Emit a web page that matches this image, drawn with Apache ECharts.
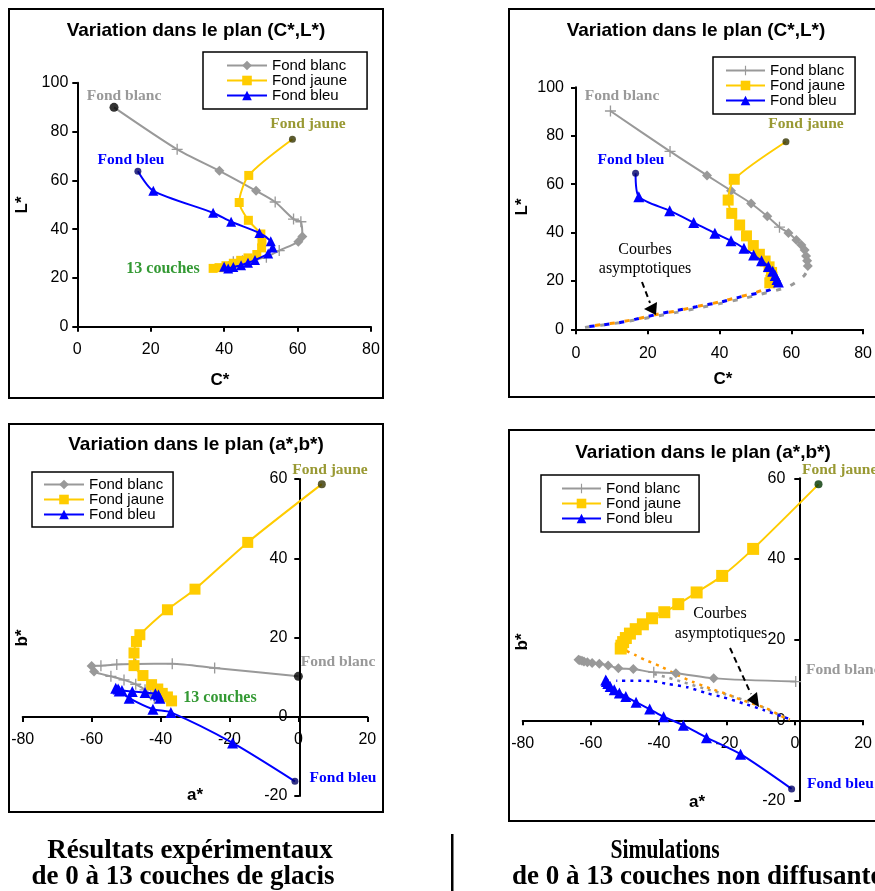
<!DOCTYPE html>
<html><head><meta charset="utf-8">
<script src="https://cdn.jsdelivr.net/npm/echarts@6/dist/echarts.min.js"></script>
<style>html,body{margin:0;padding:0;background:#fff}#c{width:875px;height:891px}</style>
</head><body><div id="c"></div>
<script>
// ---------- DATA ----------
const seriesNames = ['Fond blanc', 'Fond jaune', 'Fond bleu'];
const cTicks = [0, 20, 40, 60, 80];
const lTicks = [0, 20, 40, 60, 80, 100];
const aTicks = [-80, -60, -40, -20, 0, 20];
const bTicks = [-20, 0, 20, 40, 60];

// Panel 1: experimental (C*, L*)
const blanc1 = [[10.0,89.9],[27.2,72.7],[38.7,63.9],[48.7,55.7],[53.9,51.1],[58.9,44.1],[60.9,43.0],[61.3,37.0],[60.2,34.8],[55.0,31.2],[51.5,28.5],[48.0,27.5],[45.0,27.0],[42.5,26.6]];
const jaune1 = [[58.6,76.8],[46.7,62.0],[44.1,50.9],[46.6,43.6],[50.0,38.0],[50.3,35.0],[50.2,32.3],[48.9,29.6],[46.5,28.2],[44.5,27.2],[42.5,26.0],[40.5,25.0],[38.6,24.2],[37.0,23.9]];
const bleu1 = [[16.5,63.7],[20.7,55.7],[37.0,46.7],[41.9,43.0],[49.6,38.4],[52.7,35.0],[53.2,32.5],[52.0,30.0],[48.4,27.3],[46.5,26.2],[44.6,25.2],[42.5,24.5],[41.1,23.9],[40.0,24.6]];

// Panel 2: simulation (C*, L*)
const blanc2 = [[9.6,90.2],[26.2,73.5],[36.5,63.6],[43.2,57.3],[48.8,52.0],[53.3,46.7],[56.7,42.2],[59.2,39.8],[61.4,36.9],[62.8,34.8],[63.7,32.8],[64.1,30.3],[64.4,28.3],[64.6,26.2]];
const jaune2 = [[58.5,77.5],[44.1,62.0],[42.4,53.4],[43.4,47.9],[45.6,43.1],[47.5,38.6],[49.4,34.6],[51.1,31.0],[52.7,28.2],[53.8,25.8],[54.5,23.5],[54.6,21.6],[54.3,20.3],[54.0,19.2]];
const bleu2 = [[16.6,64.5],[17.5,54.8],[26.1,49.0],[32.8,44.1],[38.7,39.7],[43.2,36.6],[46.8,33.5],[49.5,30.7],[51.7,28.3],[53.6,26.0],[54.8,24.0],[55.5,22.2],[56.0,20.6],[56.4,19.5]];
const asymBlanc2 = [[2.5,0.8],[7,1.7],[12,2.7],[16,3.7],[22,5.3],[28,7.0],[34,8.8],[40,10.6],[46,12.5],[51,14.3],[55.5,16.0],[59,17.5],[61.5,19.7],[63.5,22.0],[64.6,24.5]];
const asymJaune2 = [[2.5,1.0],[7,1.9],[12,2.9],[17,4.3],[22,6.0],[28,7.6],[34,9.5],[40,11.3],[45,13.2],[49.5,14.9],[52.5,16.5],[54.0,18.0]];
const asymBleu2 = [[2.4,0.9],[7.4,1.8],[11.9,2.7],[16.4,4.1],[21.8,5.9],[26.3,7.3],[33.5,9.3],[40.7,11.4],[46.1,13.5],[50.6,14.9],[54.0,16.3],[56.0,18.0]];

// Panel 3: experimental (a*, b*)
const blanc3 = [[0,10.2],[-24.3,12.3],[-36.6,13.4],[-47.2,13.3],[-52.7,13.2],[-57.3,12.9],[-60.0,12.8],[-59.3,11.4],[-54.4,10.2],[-50.6,9.3],[-47.2,8.2],[-44.5,6.8],[-42.8,5.5],[-41.8,4.7]];
const jaune3 = [[6.8,58.7],[-14.7,44.0],[-30.0,32.2],[-38.0,27.0],[-46.0,20.7],[-47.0,19.0],[-47.7,16.1],[-47.7,12.9],[-45.1,10.4],[-42.6,8.1],[-40.8,7.0],[-39.5,5.9],[-38.0,5.0],[-36.8,4.0]];
const bleu3 = [[-1.0,-16.3],[-19.1,-6.6],[-37.0,1.1],[-42.2,1.9],[-49.1,4.7],[-52.0,6.5],[-53.0,7.2],[-52.3,7.0],[-51.2,6.6],[-48.2,6.4],[-44.5,6.1],[-41.5,5.8],[-40.6,5.5],[-40.2,4.7]];

// Panel 4: simulation (a*, b*)
const blanc4 = [[0.2,9.6],[-23.9,10.4],[-35.0,11.7],[-41.5,11.9],[-47.5,12.7],[-51.9,12.9],[-54.9,13.6],[-57.5,14.0],[-59.6,14.2],[-61.0,14.4],[-62.0,14.6],[-62.6,14.8],[-63.2,14.9],[-63.6,15.0]];
const jaune4 = [[6.9,58.5],[-12.3,42.5],[-21.4,35.8],[-28.9,31.7],[-34.3,28.8],[-38.4,26.8],[-42.0,25.3],[-44.7,23.8],[-46.8,22.6],[-48.5,21.5],[-49.7,20.4],[-50.5,19.4],[-51.0,18.5],[-51.2,17.8]];
const bleu4 = [[-1.0,-17.0],[-16.0,-8.4],[-26.0,-4.3],[-32.8,-1.2],[-38.6,0.9],[-42.7,2.8],[-46.7,4.5],[-49.7,5.9],[-51.6,6.8],[-53.1,7.6],[-54.3,8.4],[-55.0,9.1],[-55.4,9.6],[-55.6,10.0]];
const asymBlanc4 = [[-41.4,11.5],[-37,10.5],[-32.6,9.4],[-26.8,7.9],[-18.6,6.0],[-10.9,3.8],[-4.6,1.3],[-1.5,0.3]];
const asymJaune4 = [[-50.5,17.6],[-47.0,16.2],[-44.1,15.0],[-39.8,13.5],[-34.5,11.2],[-30.2,9.6],[-24.9,7.9],[-20.0,6.5],[-16.2,5.2],[-8.5,3.0],[-2.7,0.5],[-1.5,0.2]];
const asymBleu4 = [[-52.5,9.8],[-46,9.8],[-41.5,9.7],[-37.4,9.0],[-31.6,8.2],[-25.8,6.7],[-21.0,5.7],[-15.2,4.2],[-9.4,2.6],[-3.6,0.9],[-1.5,0.3]];

// ---------- STYLE ----------
const SANS = '"Liberation Sans", Arial, sans-serif';
const SERIF = '"Liberation Serif", "Times New Roman", serif';
const C_GRAY = '#999999', C_YEL = '#FFCC00', C_BLUE = '#0000FF', C_ORANGE = '#FF9900';
const TICK = 'path://M4.4,0h1.2v4.4h4.4v1.2h-4.4v4.4h-1.2v-4.4h-4.4v-1.2h4.4z';
// marker kind per point: n none, t tick, d diamond, s series default
const mG1 = 'ntddtttddttttt', mG2 = 'ttddddtddddddd', mG3 = 'ntttttddtttttt', mG4 = 'tddtdddddddddd';
const mStart = 'nsssssssssssss';

function items(pts, marks) {
  return pts.map((p, i) => {
    const k = marks[i];
    if (k === 'n') return { value: p, symbol: 'none' };
    if (k === 't') return { value: p, symbol: TICK, symbolSize: 11 };
    if (k === 'd') return { value: p, symbol: 'diamond', symbolSize: 10 };
    return { value: p };
  });
}
function main(panel, idx, pts, marks, color, symbol, size) {
  return {
    type: 'line', name: panel + '|' + seriesNames[idx],
    xAxisIndex: panel - 1, yAxisIndex: panel - 1,
    data: items(pts, marks), symbol: symbol, symbolSize: size, symbolKeepAspect: true,
    smooth: 0.25, lineStyle: { color: color, width: 2 }, itemStyle: { color: color },
    z: 3 + idx, silent: true
  };
}
function dot(panel, p, color, size) {
  return { type: 'scatter', name: 'start', xAxisIndex: panel - 1, yAxisIndex: panel - 1,
    data: [p], symbol: 'circle', symbolSize: size, itemStyle: { color: color }, z: 10, silent: true };
}
function asym(panel, pts, color, dash, offset, width) {
  return { type: 'line', name: 'asym', xAxisIndex: panel - 1, yAxisIndex: panel - 1,
    data: pts, symbol: 'none', smooth: 0.2,
    lineStyle: { color: color, width: width, type: dash, dashOffset: offset }, z: 2, silent: true };
}
function axis(i, ticks, margin, offset) {
  return { gridIndex: i, type: 'value', min: ticks[0], max: ticks[ticks.length - 1], interval: ticks[1] - ticks[0],
    offset: offset,
    axisLine: { show: true, onZero: false, lineStyle: { color: '#000', width: 2 } },
    axisTick: { show: true, length: 5, lineStyle: { color: '#000', width: 2 } },
    axisLabel: { margin: margin, fontSize: 16, color: '#000', fontFamily: SANS },
    splitLine: { show: false } };
}
function legend(panel, left, top, padding, itemWidth) {
  return { data: seriesNames.map(n => panel + '|' + n), left: left, top: top, orient: 'vertical',
    itemGap: 0, itemWidth: itemWidth, itemHeight: 12, padding: padding,
    borderColor: '#000', borderWidth: 1.5, backgroundColor: '#fff', selectedMode: false,
    formatter: n => n.split('|')[1],
    textStyle: { fontFamily: SANS, fontSize: 15, lineHeight: 14.4, color: '#000' } };
}
function txt(text, x, y, font, color, align, sx) {
  return { type: 'text', x: x, y: y, scaleX: sx || 1, z: 50, silent: true,
    style: { text: text, x: 0, y: 0, font: font, fill: color, textAlign: align || 'center', textVerticalAlign: 'middle' } };
}
function rtxt(text, x, y, font) {
  return { type: 'text', x: x, y: y, rotation: Math.PI / 2, z: 50, silent: true,
    style: { text: text, x: 0, y: 0, font: font, fill: '#000', textAlign: 'center', textVerticalAlign: 'middle' } };
}
function frame(x, y, w, h) {
  return { type: 'rect', shape: { x: x, y: y, width: w, height: h }, z: 40, silent: true,
    style: { fill: 'none', stroke: '#000', lineWidth: 2 } };
}
function arrow(x1, y1, x2, y2, head) {
  return [
    { type: 'line', z: 50, silent: true, shape: { x1: x1, y1: y1, x2: x2, y2: y2 },
      style: { stroke: '#000', lineWidth: 2, lineDash: [6, 4] } },
    { type: 'polygon', z: 50, silent: true, shape: { points: head }, style: { fill: '#000' } }
  ];
}

const TITLE = 'bold 19px ' + SANS;
const AXN = 'bold 17px ' + SANS;
const ANN = 'bold 15.5px ' + SERIF;
const ANN2 = '16px ' + SERIF;
const BOT = 'bold 27px ' + SERIF;
const C_OLIVE = '#999933', C_GREEN = '#339933';

const option = {
  animation: false,
  backgroundColor: '#fff',
  grid: [
    { left: 77.3, top: 82.7, width: 293.7, height: 244 },
    { left: 576, top: 87.3, width: 296, height: 242 },
    { left: 22.7, top: 479, width: 344.6, height: 317 },
    { left: 522.7, top: 478.3, width: 345.3, height: 322.7 }
  ],
  xAxis: [axis(0, cTicks, 15, 0), axis(1, cTicks, 16, 0), axis(2, aTicks, 15, -79), axis(3, aTicks, 15, -80.7)],
  yAxis: [axis(0, lTicks, 9, 0), axis(1, lTicks, 12, 0), axis(2, bTicks, 12, -276.6), axis(3, bTicks, 14, -276.6)],
  legend: [
    legend(1, 203, 52, [6, 20, 6, 23], 40),
    legend(2, 713, 57, [6, 10, 6, 12], 39),
    legend(3, 32, 472, [5, 9, 5, 11], 40),
    legend(4, 541, 475, [6, 18, 6, 20], 39)
  ],
  series: [
    main(1, 0, blanc1, mG1, C_GRAY, 'diamond', 10),
    main(1, 1, jaune1, mStart, C_YEL, 'rect', 9),
    main(1, 2, bleu1, mStart, C_BLUE, 'triangle', 10),
    dot(1, blanc1[0], '#000000', 9), dot(1, jaune1[0], '#333300', 7), dot(1, bleu1[0], '#000066', 7),

    asym(2, asymBlanc2, C_GRAY, [5, 10], 0, 3),
    asym(2, asymJaune2, C_ORANGE, [5, 10], 5, 3),
    asym(2, asymBleu2, C_BLUE, [5, 10], 10, 3),
    main(2, 0, blanc2, mG2, C_GRAY, TICK, 11),
    main(2, 1, jaune2, mStart, C_YEL, 'rect', 11),
    main(2, 2, bleu2, mStart, C_BLUE, 'triangle', 11),
    dot(2, jaune2[0], '#333300', 7), dot(2, bleu2[0], '#000066', 7),

    main(3, 0, blanc3, mG3, C_GRAY, 'diamond', 10),
    main(3, 1, jaune3, mStart, C_YEL, 'rect', 11),
    main(3, 2, bleu3, mStart, C_BLUE, 'triangle', 11),
    dot(3, blanc3[0], '#000000', 9), dot(3, jaune3[0], '#333300', 8), dot(3, bleu3[0], '#000066', 7),

    asym(4, asymBlanc4, C_GRAY, [3, 5], 0, 2.5),
    asym(4, asymJaune4, C_ORANGE, [3, 5], 4, 2.5),
    asym(4, asymBleu4, C_BLUE, [3, 5], 2, 2.5),
    main(4, 0, blanc4, mG4, C_GRAY, TICK, 11),
    main(4, 1, jaune4, mStart, C_YEL, 'rect', 12),
    main(4, 2, bleu4, mStart, C_BLUE, 'triangle', 11),
    dot(4, jaune4[0], '#003300', 8), dot(4, bleu4[0], '#000066', 7)
  ],
  graphic: { elements: [
    frame(9, 9, 374, 389), frame(509, 9, 420, 388), frame(9, 424, 374, 388), frame(509, 430, 420, 391),
    txt('Variation dans le plan (C*,L*)', 196, 31, TITLE, '#000'),
    txt('Variation dans le plan (C*,L*)', 696, 31, TITLE, '#000'),
    txt('Variation dans le plan (a*,b*)', 196, 445, TITLE, '#000'),
    txt('Variation dans le plan (a*,b*)', 703, 453, TITLE, '#000'),
    txt('C*', 220, 380, AXN, '#000'), rtxt('L*', 22, 205, AXN),
    txt('C*', 723, 379, AXN, '#000'), rtxt('L*', 522, 207, AXN),
    txt('a*', 195, 795, AXN, '#000'), rtxt('b*', 22, 638, AXN),
    txt('a*', 697, 802, AXN, '#000'), rtxt('b*', 522, 642, AXN),
    txt('Fond blanc', 124, 96, ANN, C_GRAY), txt('Fond jaune', 308, 124, ANN, C_OLIVE),
    txt('Fond bleu', 131, 160, ANN, C_BLUE), txt('13 couches', 163, 269, 'bold 16px ' + SERIF, C_GREEN),
    txt('Fond blanc', 622, 96, ANN, C_GRAY), txt('Fond jaune', 806, 124, ANN, C_OLIVE),
    txt('Fond bleu', 631, 160, ANN, C_BLUE),
    txt('Courbes', 645, 250, ANN2, '#000'), txt('asymptotiques', 645, 269, ANN2, '#000'),
    txt('Fond jaune', 330, 470, ANN, C_OLIVE), txt('Fond blanc', 338, 662, ANN, C_GRAY),
    txt('Fond bleu', 343, 778, ANN, C_BLUE), txt('13 couches', 220, 698, 'bold 16px ' + SERIF, C_GREEN),
    txt('Fond jaune', 802, 470, ANN, C_OLIVE, 'left'), txt('Fond blanc', 806, 670, ANN, C_GRAY, 'left'),
    txt('Fond bleu', 807, 784, ANN, C_BLUE, 'left'),
    txt('Courbes', 720, 614, ANN2, '#000'), txt('asymptotiques', 721, 634, ANN2, '#000'),
    ...arrow(642, 282, 650, 303, [[644, 309], [657, 302], [656, 315]]),
    ...arrow(730, 648, 751, 694, [[747, 700], [757, 692], [759, 707]]),
    txt('Résultats expérimentaux', 190, 851, BOT, '#000'),
    txt('de 0 à 13 couches de glacis', 183, 877, BOT, '#000'),
    txt('Simulations', 665, 851, BOT, '#000', 'center', 0.8),
    txt('de 0 à 13 couches non diffusantes', 512, 877, BOT, '#000', 'left'),
    { type: 'rect', z: 50, silent: true, shape: { x: 451, y: 834, width: 2.5, height: 57 }, style: { fill: '#000' } }
  ] }
};
const chart = echarts.init(document.getElementById('c'), null, { renderer: 'canvas' });
chart.setOption(option);
</script></body></html>
